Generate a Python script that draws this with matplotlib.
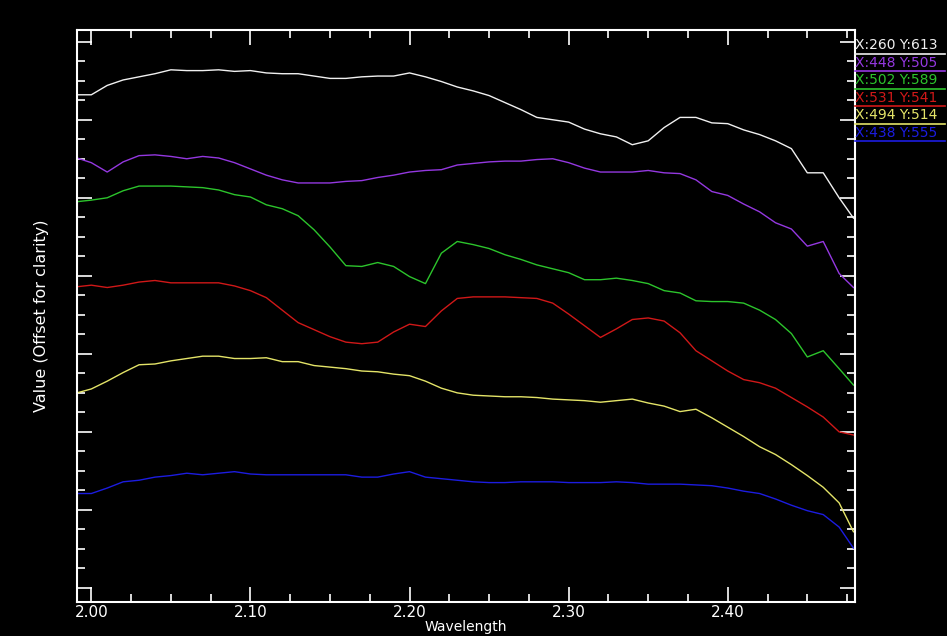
import matplotlib
matplotlib.use("Agg")
import matplotlib.pyplot as plt
from matplotlib.lines import Line2D
from matplotlib.ticker import MultipleLocator

# wavelength samples (micrometres)
wavelength = [1.991, 2.00, 2.01, 2.02, 2.03, 2.04, 2.05, 2.06, 2.07, 2.08,
              2.09, 2.10, 2.11, 2.12, 2.13, 2.14, 2.15, 2.16, 2.17, 2.18,
              2.19, 2.20, 2.21, 2.22, 2.23, 2.24, 2.25, 2.26, 2.27, 2.28,
              2.29, 2.30, 2.31, 2.32, 2.33, 2.34, 2.35, 2.36, 2.37, 2.38,
              2.39, 2.40, 2.41, 2.42, 2.43, 2.44, 2.45, 2.46, 2.47, 2.479]

# spectra, offset for clarity
white = [6.32, 6.32, 6.44, 6.51, 6.55, 6.59, 6.64, 6.63, 6.63, 6.64,
         6.62, 6.63, 6.60, 6.59, 6.59, 6.56, 6.53, 6.53, 6.55, 6.56,
         6.56, 6.60, 6.55, 6.49, 6.42, 6.37, 6.31, 6.22, 6.13, 6.03,
         6.00, 5.97, 5.88, 5.82, 5.78, 5.68, 5.73, 5.90, 6.03, 6.03,
         5.96, 5.95, 5.87, 5.81, 5.73, 5.63, 5.32, 5.32, 5.00, 4.74]
purple = [5.51, 5.45, 5.33, 5.46, 5.54, 5.55, 5.53, 5.50, 5.53, 5.51,
          5.45, 5.37, 5.29, 5.23, 5.19, 5.19, 5.19, 5.21, 5.22, 5.26,
          5.29, 5.33, 5.35, 5.36, 5.42, 5.44, 5.46, 5.47, 5.47, 5.49,
          5.50, 5.45, 5.38, 5.33, 5.33, 5.33, 5.35, 5.32, 5.31, 5.23,
          5.08, 5.03, 4.92, 4.82, 4.68, 4.60, 4.38, 4.44, 4.03, 3.85]
green = [4.95, 4.97, 5.00, 5.09, 5.15, 5.15, 5.15, 5.14, 5.13, 5.10,
         5.04, 5.01, 4.91, 4.86, 4.77, 4.59, 4.37, 4.13, 4.12, 4.17,
         4.12, 3.99, 3.90, 4.29, 4.44, 4.40, 4.35, 4.27, 4.21, 4.14,
         4.09, 4.04, 3.95, 3.95, 3.97, 3.94, 3.90, 3.81, 3.78, 3.68,
         3.67, 3.67, 3.65, 3.56, 3.44, 3.26, 2.96, 3.04, 2.81, 2.60]
red = [3.86, 3.88, 3.85, 3.88, 3.92, 3.94, 3.91, 3.91, 3.91, 3.91,
       3.87, 3.81, 3.72, 3.56, 3.40, 3.31, 3.22, 3.15, 3.13, 3.15,
       3.28, 3.38, 3.35, 3.55, 3.71, 3.73, 3.73, 3.73, 3.72, 3.71,
       3.65, 3.51, 3.36, 3.21, 3.32, 3.44, 3.46, 3.42, 3.27, 3.04,
       2.91, 2.78, 2.67, 2.63, 2.56, 2.44, 2.32, 2.19, 2.00, 1.96]
yellow = [2.50, 2.55, 2.65, 2.76, 2.86, 2.87, 2.91, 2.94, 2.97, 2.97,
          2.94, 2.94, 2.95, 2.90, 2.90, 2.85, 2.83, 2.81, 2.78, 2.77,
          2.74, 2.72, 2.65, 2.56, 2.50, 2.47, 2.46, 2.45, 2.45, 2.44,
          2.42, 2.41, 2.40, 2.38, 2.40, 2.42, 2.37, 2.33, 2.26, 2.29,
          2.18, 2.06, 1.94, 1.81, 1.71, 1.58, 1.44, 1.29, 1.09, 0.72]
blue = [1.21, 1.21, 1.28, 1.36, 1.38, 1.42, 1.44, 1.47, 1.45, 1.47,
        1.49, 1.46, 1.45, 1.45, 1.45, 1.45, 1.45, 1.45, 1.42, 1.42,
        1.46, 1.49, 1.42, 1.40, 1.38, 1.36, 1.35, 1.35, 1.36, 1.36,
        1.36, 1.35, 1.35, 1.35, 1.36, 1.35, 1.33, 1.33, 1.33, 1.32,
        1.31, 1.28, 1.24, 1.21, 1.14, 1.06, 0.99, 0.94, 0.78, 0.51]

series = [white, purple, green, red, yellow, blue]
labels = ["X:260 Y:613", "X:448 Y:505", "X:502 Y:589",
          "X:531 Y:541", "X:494 Y:514", "X:438 Y:555"]
colors = ["#f0f0f0", "#9438e0", "#2cc42c", "#d01818", "#e4e468", "#1c1ce0"]

fig = plt.figure(figsize=(9.47, 6.36), dpi=100, facecolor="black")
ax = fig.add_axes([0.0813, 0.0535, 0.8216, 0.8993], facecolor="black")

for y, c in zip(series, colors):
    ax.plot(wavelength, y, color=c, lw=1.0)

ax.set_xlim(1.991, 2.480)
ax.set_ylim(-0.18, 7.15)

# ENVI style ticks: inward, on every side, no y labels
ax.xaxis.set_major_locator(MultipleLocator(0.1))
ax.xaxis.set_minor_locator(MultipleLocator(0.025))
ax.yaxis.set_major_locator(MultipleLocator(1.0))
ax.yaxis.set_minor_locator(MultipleLocator(0.25))
ax.xaxis.set_major_formatter(plt.FormatStrFormatter("%.2f"))
ax.tick_params(which="both", direction="in", colors="white",
               top=True, right=True, labelleft=False, labelsize=11, pad=2)
ax.tick_params(which="major", length=11, width=1.2)
ax.tick_params(which="minor", length=6, width=1.2)
for s in ax.spines.values():
    s.set_color("white")
    s.set_linewidth(1.5)

ax.set_xlabel("Wavelength", color="white", fontsize=10, labelpad=0)
ax.set_ylabel("Value (Offset for clarity)", color="white", fontsize=11.5, labelpad=20)

# pixel legend at the right, each entry underlined in its colour
x0, x1 = 0.903, 0.998
for i, (lab, c) in enumerate(zip(labels, colors)):
    ty = 0.929 - i * 0.0275
    fig.text(x0, ty, lab, color=c, fontsize=10, va="center", ha="left")
    fig.add_artist(Line2D([x0, x1], [ty - 0.0135, ty - 0.0135],
                          color=c, lw=1.2, transform=fig.transFigure))

fig.savefig("out.png", dpi=100, facecolor="black")
